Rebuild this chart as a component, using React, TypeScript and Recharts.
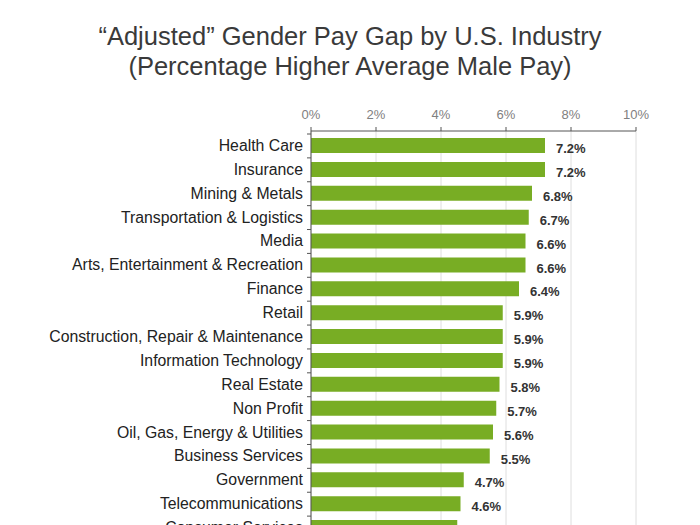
import { BarChart, Bar, XAxis, YAxis, CartesianGrid, LabelList } from "recharts"

const industries = [
  "Health Care",
  "Insurance",
  "Mining & Metals",
  "Transportation & Logistics",
  "Media",
  "Arts, Entertainment & Recreation",
  "Finance",
  "Retail",
  "Construction, Repair & Maintenance",
  "Information Technology",
  "Real Estate",
  "Non Profit",
  "Oil, Gas, Energy & Utilities",
  "Business Services",
  "Government",
  "Telecommunications",
  "Consumer Services",
]

const payGap = [7.2, 7.2, 6.8, 6.7, 6.6, 6.6, 6.4, 5.9, 5.9, 5.9, 5.8, 5.7, 5.6, 5.5, 4.7, 4.6, 4.5]

const xTicks = [0, 2, 4, 6, 8, 10]

const data = industries.map((name, i) => ({ name, value: payGap[i] }))

const CHART_W = 700
const CHART_H = 560
const MARGIN = { top: 101, right: 64, left: 0, bottom: 20 }
const X_AXIS_H = 30
const PAD_TOP = 3
const BAND = (CHART_H - MARGIN.top - MARGIN.bottom - X_AXIS_H - PAD_TOP) / industries.length

// category label plus a small tick at the band boundary (between bars)
function IndustryTick({ x, y, payload }: any) {
  const boundary = y - BAND / 2
  return (
    <g>
      <text x={x} y={y} dy={5} textAnchor="end" fill="#222" fontSize={15.8}>
        {payload.value}
      </text>
      <line x1={x + 4} x2={x + 8} y1={boundary} y2={boundary} stroke="#555" />
    </g>
  )
}

export default function App() {
  return (
    <div
      style={{
        position: "fixed",
        top: 0,
        left: 0,
        width: 700,
        height: 525,
        overflow: "hidden",
        background: "#fff",
        fontFamily: "'Liberation Sans', Arial, sans-serif",
      }}
    >
      <div
        style={{
          position: "absolute",
          top: 21,
          left: 0,
          width: 700,
          textAlign: "center",
          fontSize: 25.5,
          lineHeight: "30px",
          color: "#3a3a3a",
        }}
      >
        “Adjusted” Gender Pay Gap by U.S. Industry
        <br />
        (Percentage Higher Average Male Pay)
      </div>
      <BarChart width={CHART_W} height={CHART_H} data={data} layout="vertical" margin={MARGIN}>
        <CartesianGrid horizontal={false} stroke="#dedede" />
        <XAxis
          type="number"
          orientation="top"
          domain={[0, 10]}
          ticks={xTicks}
          tickFormatter={(v) => `${v}%`}
          height={X_AXIS_H}
          axisLine={{ stroke: "#555" }}
          tickLine={{ stroke: "#555" }}
          tickSize={4}
          tickMargin={8}
          tick={{ fill: "#808080", fontSize: 13 }}
        />
        <YAxis
          type="category"
          dataKey="name"
          width={311}
          interval={0}
          axisLine={{ stroke: "#555" }}
          tickLine={false}
          padding={{ top: PAD_TOP, bottom: 0 }}
          tick={<IndustryTick />}
        />
        <Bar dataKey="value" fill="#78ad24" barSize={15} isAnimationActive={false}>
          <LabelList
            dataKey="value"
            position="right"
            offset={11}
            formatter={(v: any) => `${v}%`}
            style={{ fill: "#333", fontSize: 13, fontWeight: "bold" }}
            dy={3}
          />
        </Bar>
      </BarChart>
    </div>
  )
}
